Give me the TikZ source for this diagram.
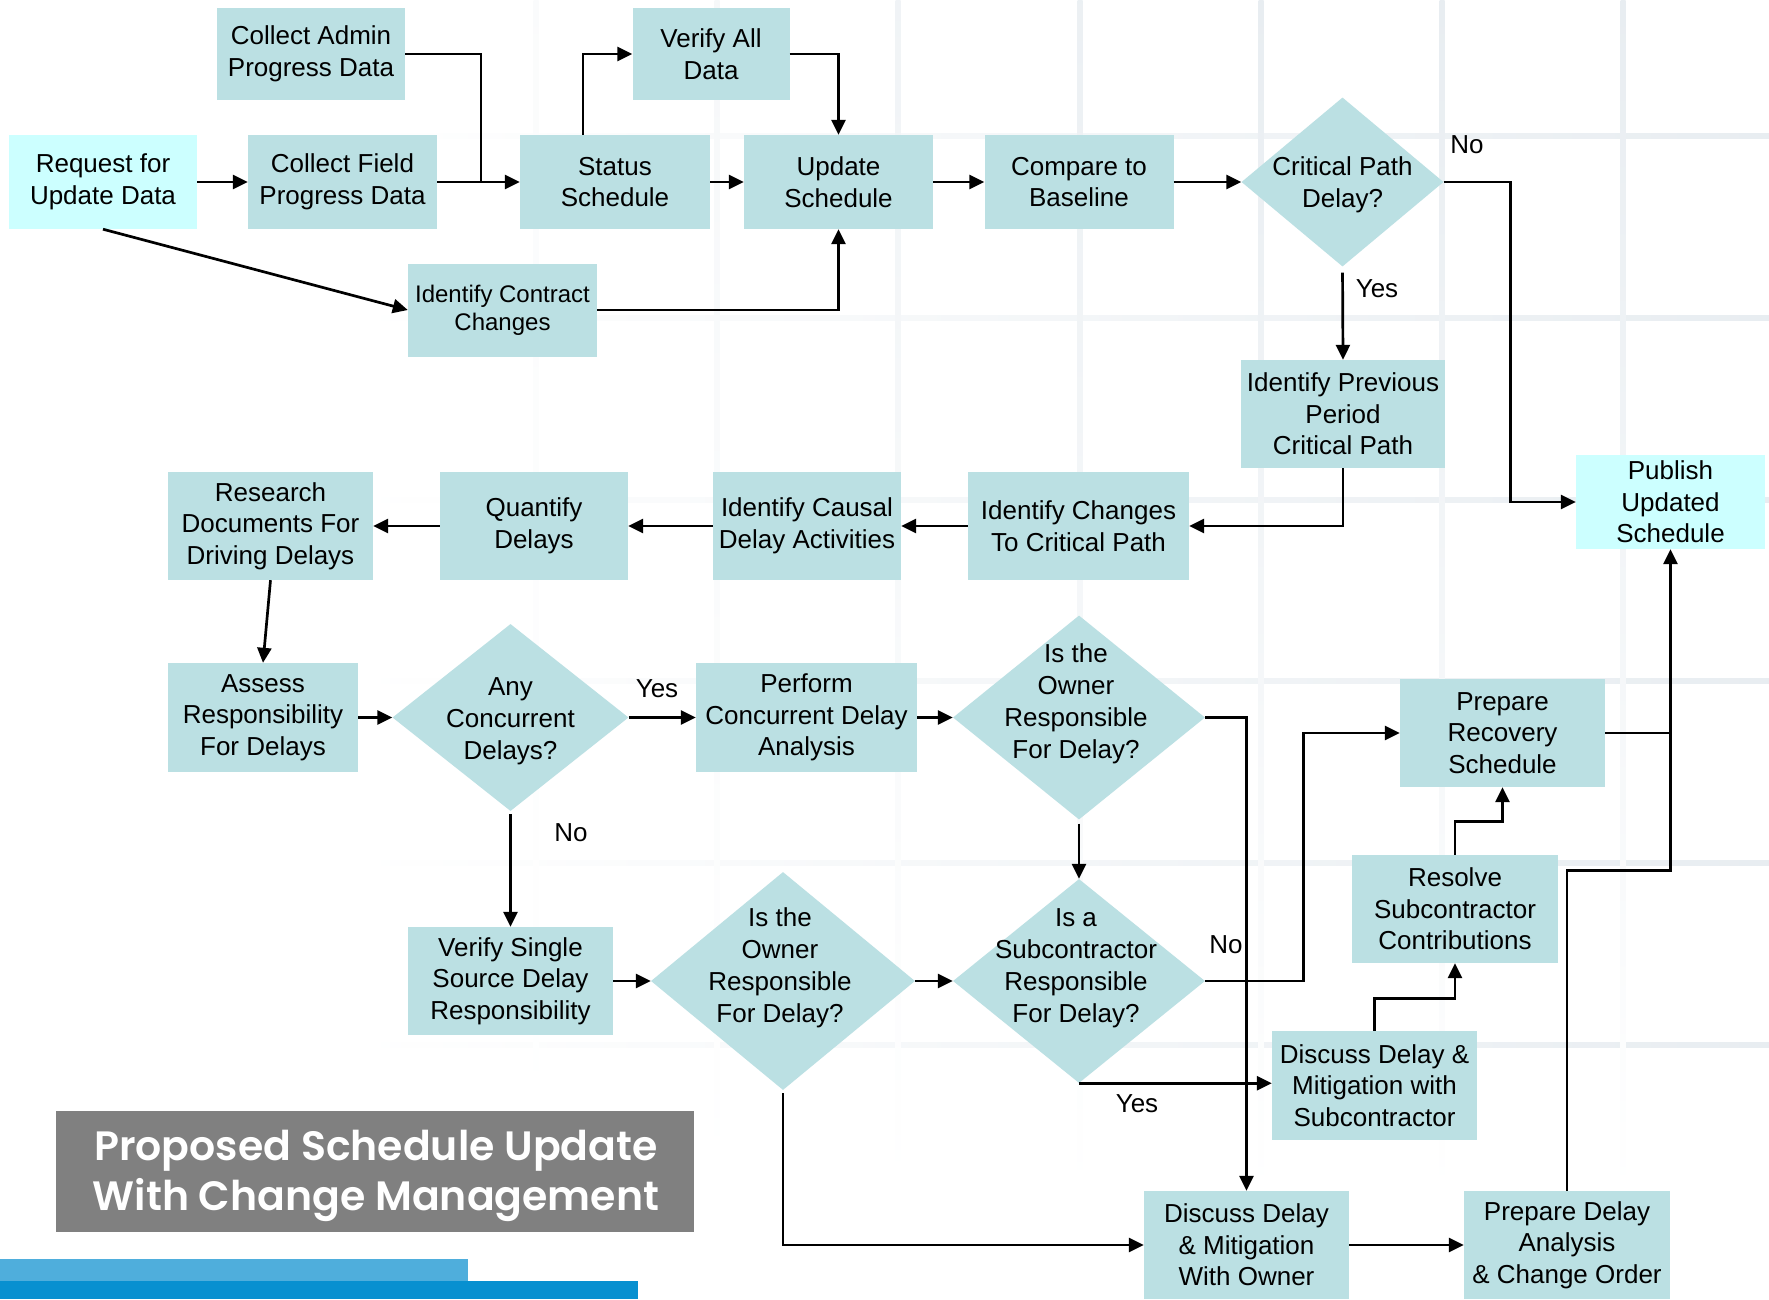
\documentclass[tikz,border=0pt]{standalone}
\usepackage{fontspec}
\setmainfont{Liberation Sans}
\newfontfamily\titlefont{Poppins SemiBold}
\usetikzlibrary{shapes.geometric,arrows.meta}
\definecolor{boxc}{HTML}{BBE0E3}
\definecolor{cyanc}{HTML}{CCFFFF}
\definecolor{gridc}{HTML}{E8EDF1}
\definecolor{titlec}{HTML}{808080}
\definecolor{barlight}{HTML}{4FAEDC}
\definecolor{bardark}{HTML}{0890D0}
\begin{document}
\begin{tikzpicture}[x=1pt,y=-1pt,
  box/.style={rectangle, fill=boxc, inner sep=0pt, align=center, font=\fontsize{26}{31.5}\selectfont,
    execute at begin node={\rule{0pt}{24.5pt}}},
  dia/.style={diamond, fill=boxc, inner sep=0pt},
  dtext/.style={align=center, inner sep=0pt, font=\fontsize{26}{32}\selectfont},
  lab/.style={inner sep=0pt, font=\fontsize{26}{31}\selectfont},
  conn/.style={line width=2.7pt, -{Triangle[length=15pt,width=14pt]}},
  plain/.style={line width=2.7pt}
]
\useasboundingbox (0,0) rectangle (1769,1299);
\fill[white] (0,0) rectangle (1769,1299);
% background grid (fading towards the lower left)
\foreach \y in {136,318,500,681,863,1045}
  \shade[left color=white, right color=gridc] (350,\y-2.5) rectangle (1769,\y+2.5);
\foreach \x/\s in {536/20,717/40,898/65,1080/85,1261/100,1442/100,1623/100}
  \shade[top color=gridc!\s!white, bottom color=white] (\x-2.5,0) rectangle (\x+2.5,1200);

% boxes
\node[box, fill=cyanc, minimum width=188, minimum height=94] (req) at (103,182) {Request for\\Update Data};
\node[box, minimum width=188, minimum height=92] (admin) at (311,54) {Collect Admin\\Progress Data};
\node[box, minimum width=189, minimum height=94] (field) at (342.5,182) {Collect Field\\Progress Data};
\node[box, minimum width=190, minimum height=94] (status) at (615,182) {Status\\Schedule};
\node[box, minimum width=157, minimum height=92] (verify) at (711,54) {Verify All\\Data};
\node[box, minimum width=189, minimum height=94] (update) at (838.5,182) {Update\\Schedule};
\node[box, minimum width=189, minimum height=93, font=\fontsize{24}{28}\selectfont] (contract) at (502.5,310) {Identify Contract\\Changes};
\node[box, minimum width=189, minimum height=94] (compare) at (1079,182) {Compare to\\Baseline};
\node[dia, minimum width=202, minimum height=169] (cpd) at (1342.5,182) {};
\node[dtext] (cpdt) at (1342.5,185) {Critical Path\\Delay?};
\node[box, minimum width=204, minimum height=108] (prev) at (1343,414) {Identify Previous\\Period\\Critical Path};
\node[box, fill=cyanc, minimum width=189, minimum height=94] (publish) at (1670.5,502) {Publish\\Updated\\Schedule};
\node[box, minimum width=221, minimum height=108] (changes) at (1078.5,526) {Identify Changes\\To Critical Path};
\node[box, minimum width=188, minimum height=108] (causal) at (807,526) {Identify Causal\\Delay Activities};
\node[box, minimum width=188, minimum height=108] (quantify) at (534,526) {Quantify\\Delays};
\node[box, minimum width=205, minimum height=108] (research) at (270.5,526) {Research\\Documents For\\Driving Delays};
\node[box, minimum width=190, minimum height=109] (assess) at (263,717.5) {Assess\\Responsibility\\For Delays};
\node[dia, minimum width=236, minimum height=187] (anyc) at (510.5,717.5) {};
\node[dtext] (anyct) at (510.5,721) {Any\\Concurrent\\Delays?};
\node[box, minimum width=221, minimum height=109] (perform) at (806.5,717.5) {Perform\\Concurrent Delay\\Analysis};
\node[dia, minimum width=252, minimum height=204] (own1) at (1079,717.5) {};
\node[dtext] (own1t) at (1076,704) {Is the\\Owner\\Responsible\\For Delay?};
\node[box, minimum width=205, minimum height=108] (recovery) at (1502.5,733) {Prepare\\Recovery\\Schedule};
\node[box, minimum width=206, minimum height=108] (resolve) at (1455,909) {Resolve\\Subcontractor\\Contributions};
\node[box, minimum width=205, minimum height=108] (single) at (510.5,981) {Verify Single\\Source Delay\\Responsibility};
\node[dia, minimum width=264, minimum height=218] (own2) at (783,981) {};
\node[dtext] (own2t) at (780,968) {Is the\\Owner\\Responsible\\For Delay?};
\node[dia, minimum width=252, minimum height=204] (sub) at (1079,981) {};
\node[dtext] (subt) at (1076,968) {Is a\\Subcontractor\\Responsible\\For Delay?};
\node[box, minimum width=205, minimum height=109] (dsub) at (1374.5,1085.5) {Discuss Delay \&\\Mitigation with\\Subcontractor};
\node[box, minimum width=205, minimum height=108] (downer) at (1246.5,1245) {Discuss Delay\\\& Mitigation\\With Owner};
\node[box, minimum width=206, minimum height=108] (pda) at (1567,1245) {Prepare Delay\\Analysis\\\& Change Order};

% title and bars
\node[fill=titlec, minimum width=638, minimum height=121, inner sep=0pt] (title) at (375,1171.5) {};
\node[text=white, align=center, inner sep=0pt,
      font=\titlefont\fontsize{41}{50}\selectfont] (titlet) at (376,1176) {Proposed Schedule Update\\With Change Management};
\fill[barlight] (0,1259) rectangle (468,1281);
\fill[bardark] (0,1281) rectangle (638,1299);

% connectors
\coordinate (j1) at (481,182);
\draw[conn] (req) -- (field);
\draw[conn] (field) -- (status);
\draw[plain] (admin.east) -| (j1);
\draw[conn] ([xshift=-32pt]status.north) |- (verify.west);
\draw[conn] (verify.east) -| (update.north);
\draw[conn] (status) -- (update);
\draw[conn] (req.south) -- (contract.west);
\draw[conn] (contract.east) -| (update.south);
\draw[conn] (update) -- (compare);
\draw[conn] (compare.east) -- (cpd.west);
\draw[conn] (cpd.east) -- ++(67,0) |- (publish.west);
\draw[conn, shorten <=6pt] (cpd.south) -- (prev.north);
\draw[conn] (prev.south) |- (changes.east);
\draw[conn] (changes) -- (causal);
\draw[conn] (causal) -- (quantify);
\draw[conn] (quantify) -- (research);
\draw[conn] (research.south) -- (assess.north);
\draw[conn] (assess.east) -- (anyc.west);
\draw[conn] (anyc.east) -- (perform.west);
\draw[conn] (perform.east) -- (own1.west);
\draw[conn, shorten <=3pt] (anyc.south) -- (single.north);
\draw[conn] (single.east) -- (own2.west);
\draw[conn] (own2.east) -- (sub.west);
\draw[conn, shorten <=4pt] (own1.south) -- (sub.north);
\draw[conn] (own1.east) -| (downer.north);
\draw[conn] (sub.east) -- ++(98,0) |- (recovery.west);
\draw[conn] (sub.south) -- (sub.south -| dsub.west);
\draw[conn, shorten <=3pt] (own2.south) |- (downer.west);
\draw[conn] (downer) -- (pda);
\draw[conn] (dsub.north) -- ++(0,-32) -| (resolve.south);
\draw[conn] (resolve.north) -- ++(0,-33) -| (recovery.south);
\draw[plain] (recovery.east) -- (recovery.east -| publish.south);
\draw[conn] (pda.north) -- ++(0,-320) -| (publish.south);

% labels
\node[lab] (lno1) at (1467,145) {No};
\node[lab] (lyes1) at (1377,289) {Yes};
\node[lab] (lyes2) at (657,689) {Yes};
\node[lab] (lno2) at (571,833) {No};
\node[lab] (lno3) at (1226,945) {No};
\node[lab] (lyes3) at (1137,1104) {Yes};
\end{tikzpicture}
\end{document}
